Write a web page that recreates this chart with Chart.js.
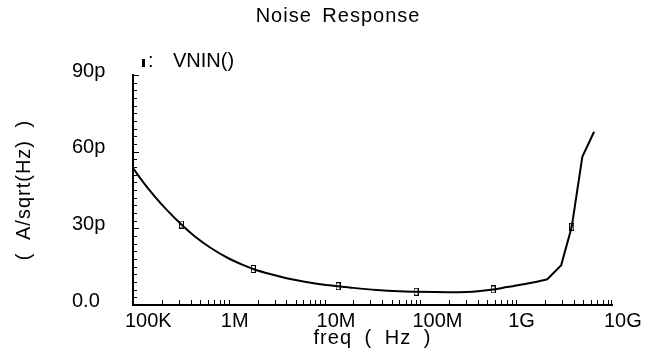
<!DOCTYPE html>
<html>
<head>
<meta charset="utf-8">
<script src="https://cdn.jsdelivr.net/npm/chart.js@4.4.0/dist/chart.umd.min.js"></script>
<style>
  html, body { margin: 0; padding: 0; background: #fff; }
  #wrap { width: 649px; height: 354px; }
</style>
</head>
<body>
<div id="wrap"><canvas id="noiseChart" width="649" height="354"></canvas></div>
<script>
// Noise response, values (p = pA/sqrt(Hz))

// smooth low/mid frequency part of the trace
let lowFreqHz = [
  1e5, 1.3e5, 1.7e5, 2.2e5, 3.2e5, 4.5e5, 6.5e5, 1e6, 1.4e6, 1.8e6,
  2.7e6, 4e6, 6e6, 9e6, 1.38e7, 2e7, 3.5e7, 6e7, 9e7, 1.4e8,
  2e8, 3e8, 4.2e8, 5.75e8, 8e8, 1.2e9, 1.6e9, 2.1e9
];
let lowNoiseP = [
  53.6, 47.7, 42.3, 37.6, 31.5, 26.6, 22.3, 18.2, 15.7, 14.1,
  12.1, 10.5, 9.2, 8.15, 7.35, 6.7, 5.9, 5.4, 5.2, 5.05,
  5.0, 5.1, 5.5, 6.1, 7.0, 8.1, 9.0, 10.0
];
// coarse high frequency part, drawn with straight segments
let highFreqHz = [2.1e9, 2.95e9, 3.8e9, 4.9e9, 6.5e9];
let highNoiseP = [10.0, 15.6, 30.6, 58, 67.8];

let markerFreqs = [3.2e5, 1.8e6, 1.38e7, 9e7, 5.75e8, 3.8e9];

let xTickValues = [1e5, 1e6, 1e7, 1e8, 1e9, 1e10];
let xTickLabels = ['100K', '1M', '10M', '100M', '1G', '10G'];
let yTickValues = [0, 30, 60, 90];
let yTickLabels = ['0.0', '30p', '60p', '90p'];

let fontName = '"Liberation Sans", Arial, sans-serif';

// little box used as the trace marker
function makeMarker(filled) {
  let c = document.createElement('canvas');
  c.width = 5;
  c.height = 8;
  let g = c.getContext('2d');
  if (filled) {
    g.fillStyle = '#000';
    g.fillRect(1, 0, 3, 8);
  } else {
    g.strokeStyle = '#000';
    g.lineWidth = 1;
    g.strokeRect(0.5, 0.5, 4, 7);
  }
  return c;
}
let markerImg = makeMarker(false);
let legendImg = makeMarker(true);

function toPoints(xs, ys) {
  let pts = [];
  for (let i = 0; i < xs.length; i++) {
    pts.push({ x: xs[i], y: ys[i] });
  }
  return pts;
}

function markerRadius(c) {
  let p = c.raw;
  if (!p) return 0;
  return markerFreqs.includes(p.x) ? 3 : 0;
}

// inside tick marks, title, legend and axis titles
let decorPlugin = {
  id: 'decor',
  afterDraw(chart) {
    let ctx = chart.ctx;
    let xs = chart.scales.x;
    let ys = chart.scales.y;
    let area = chart.chartArea;
    ctx.save();
    ctx.strokeStyle = '#000';
    ctx.lineWidth = 1;
    ctx.beginPath();
    // log minor ticks on the frequency axis
    for (let n = 5; n < 10; n++) {
      for (let k = 1; k < 10; k++) {
        let px = Math.round(xs.getPixelForValue(k * Math.pow(10, n))) + 0.5;
        ctx.moveTo(px, area.bottom);
        ctx.lineTo(px, area.bottom - 5);
      }
    }
    let pEnd = Math.round(xs.getPixelForValue(1e10)) - 0.5;
    ctx.moveTo(pEnd, area.bottom);
    ctx.lineTo(pEnd, area.bottom - 5);
    // minor ticks every 3p on the y axis
    for (let v = 0; v <= 90; v += 3) {
      let py = Math.round(ys.getPixelForValue(v)) + 0.5;
      let len = v % 30 === 0 ? 6 : 4;
      ctx.moveTo(area.left, py);
      ctx.lineTo(area.left + len, py);
    }
    ctx.stroke();

    ctx.fillStyle = '#000';
    ctx.font = '20px ' + fontName;
    ctx.textBaseline = 'alphabetic';
    ctx.letterSpacing = '1px';
    ctx.wordSpacing = '4px';
    ctx.textAlign = 'center';
    ctx.fillText('Noise Response', 338, 22);

    ctx.textAlign = 'left';
    ctx.drawImage(legendImg, 141, 59);
    ctx.fillText(':', 148, 67);
    ctx.letterSpacing = '0px';
    ctx.fillText('VNIN()', 173, 67);

    ctx.letterSpacing = '1px';
    ctx.wordSpacing = '6px';
    ctx.textAlign = 'center';
    ctx.fillText('freq ( Hz )', (area.left + area.right) / 2, 344);

    ctx.translate(24, 190);
    ctx.rotate(-Math.PI / 2);
    ctx.textBaseline = 'middle';
    ctx.fillText('( A/sqrt(Hz) )', 0, 0);
    ctx.restore();
  },
};

let lineStyle = {
  borderColor: '#000',
  borderWidth: 2,
  fill: false,
  pointStyle: markerImg,
  pointRadius: markerRadius,
  pointHoverRadius: 0,
  clip: false,
};

let ctx = document.getElementById('noiseChart').getContext('2d');
let noiseChart = new Chart(ctx, {
  type: 'line',
  data: {
    datasets: [
      Object.assign({ label: 'VNIN()', data: toPoints(lowFreqHz, lowNoiseP), cubicInterpolationMode: 'monotone' }, lineStyle),
      Object.assign({ label: 'VNIN() hf', data: toPoints(highFreqHz, highNoiseP), tension: 0 }, lineStyle),
    ],
  },
  options: {
    responsive: false,
    animation: false,
    devicePixelRatio: 1,
    layout: { padding: { left: 72, right: 37, top: 75, bottom: 0 } },
    plugins: {
      legend: { display: false },
      title: { display: false },
      tooltip: { enabled: false },
    },
    scales: {
      x: {
        type: 'logarithmic',
        min: 1e5,
        max: 1e10,
        afterBuildTicks: (scale) => {
          scale.ticks = xTickValues.map((v) => ({ value: v }));
        },
        afterFit: (scale) => {
          scale.height = 49;
        },
        grid: { display: false },
        border: { display: true, color: '#000', width: 2 },
        ticks: {
          autoSkip: false,
          maxRotation: 0,
          align: 'start',
          labelOffset: -8,
          padding: -4,
          color: '#000',
          font: { family: fontName, size: 20 },
          callback: (value, index) => xTickLabels[index],
        },
      },
      y: {
        min: 0,
        max: 90,
        afterBuildTicks: (scale) => {
          scale.ticks = yTickValues.map((v) => ({ value: v }));
        },
        afterFit: (scale) => {
          scale.width = 61;
        },
        grid: { display: false },
        border: { display: true, color: '#000', width: 2 },
        ticks: {
          autoSkip: false,
          crossAlign: 'far',
          labelOffset: -4,
          color: '#000',
          font: { family: fontName, size: 20 },
          callback: (value, index) => yTickLabels[index],
        },
      },
    },
  },
  plugins: [decorPlugin],
});
</script>
</body>
</html>
